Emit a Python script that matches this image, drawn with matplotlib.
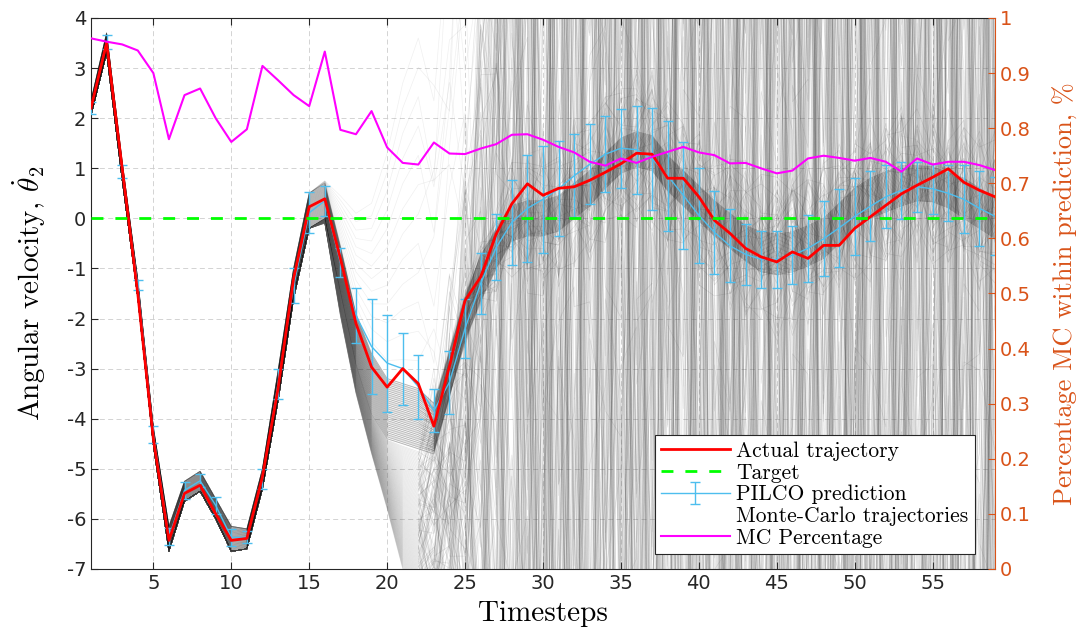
import numpy as np
import matplotlib
matplotlib.use('Agg')
import matplotlib.pyplot as plt
from matplotlib.lines import Line2D

plt.rcParams['mathtext.fontset'] = 'cm'
plt.rcParams['axes.unicode_minus'] = False
plt.rcParams['font.family'] = 'DejaVu Sans'

steps = np.arange(1, 60)

# actual trajectory (red)
actual = [2.2, 3.5, 1.0, -1.5, -4.4, -6.43, -5.49, -5.33, -5.9, -6.43,
          -6.39, -5.16, -3.4, -1.2, 0.23, 0.39, -0.8, -2.1, -2.97, -3.37,
          -3.0, -3.3, -4.15, -2.95, -1.64, -1.17, -0.31, 0.29, 0.69, 0.46,
          0.6, 0.63, 0.76, 0.92, 1.09, 1.30, 1.28, 0.80, 0.80, 0.43,
          -0.04, -0.3, -0.6, -0.77, -0.87, -0.67, -0.8, -0.54, -0.54, -0.2,
          0.03, 0.26, 0.49, 0.66, 0.82, 0.99, 0.72, 0.56, 0.43]

# PILCO prediction: mean and error bar half-width (cyan)
pilco_mean = [2.2, 3.53, 0.94, -1.34, -4.31, -6.36, -5.43, -5.24, -5.73, -6.37,
              -6.37, -5.21, -3.3, -1.35, 0.11, 0.35, -0.88, -1.94, -2.56, -2.89,
              -3.0, -3.36, -3.84, -3.27, -2.2, -1.3, -0.58, -0.08, 0.2, 0.38,
              0.59, 0.85, 1.08, 1.28, 1.4, 1.37, 1.19, 0.85, 0.46, 0.06,
              -0.28, -0.55, -0.72, -0.82, -0.82, -0.74, -0.6, -0.41, -0.19, 0.04,
              0.24, 0.43, 0.56, 0.63, 0.59, 0.5, 0.38, 0.2, 0.04]
pilco_err = [0.12, 0.14, 0.13, 0.1, 0.17, 0.17, 0.17, 0.13, 0.17, 0.17,
             0.12, 0.2, 0.3, 0.35, 0.41, 0.3, 0.29, 0.55, 0.94, 0.97,
             0.72, 0.64, 0.43, 0.63, 0.58, 0.6, 0.66, 0.85, 1.07, 1.07,
             0.95, 0.83, 0.8, 0.76, 0.79, 0.88, 1.02, 1.1, 1.07, 0.95,
             0.83, 0.73, 0.61, 0.57, 0.57, 0.58, 0.67, 0.75, 0.78, 0.77,
             0.7, 0.63, 0.57, 0.5, 0.5, 0.56, 0.68, 0.75, 0.78]

# share of Monte-Carlo runs inside the prediction (right axis)
mc_percent = [0.963, 0.957, 0.952, 0.941, 0.90, 0.78, 0.86, 0.872, 0.818, 0.775,
              0.798, 0.913, 0.887, 0.86, 0.84, 0.939, 0.797, 0.789, 0.831, 0.765,
              0.737, 0.734, 0.774, 0.754, 0.753, 0.763, 0.771, 0.788, 0.789, 0.779,
              0.766, 0.756, 0.739, 0.732, 0.745, 0.737, 0.748, 0.757, 0.766, 0.756,
              0.751, 0.736, 0.737, 0.727, 0.718, 0.723, 0.745, 0.75, 0.746, 0.741,
              0.746, 0.739, 0.721, 0.745, 0.734, 0.739, 0.739, 0.733, 0.724]

# Monte-Carlo cloud: centre and half-width of the dense band
mc_core = [2.2, 3.5, 0.95, -1.4, -4.35, -6.4, -5.45, -5.25, -5.8, -6.4,
           -6.4, -5.2, -3.35, -1.3, 0.15, 0.35, -1.0, -2.4, -3.3, -3.8,
           -3.9, -4.0, -4.2, -3.1, -2.0, -1.2, -0.6, -0.1, 0.0, 0.0,
           0.1, 0.35, 0.6, 0.95, 1.25, 1.38, 1.3, 0.9, 0.6, 0.3,
           0.0, -0.25, -0.5, -0.67, -0.72, -0.67, -0.55, -0.4, -0.1, 0.2,
           0.4, 0.53, 0.65, 0.7, 0.68, 0.56, 0.4, 0.2, 0.0]
mc_core_w = [0.15, 0.2, 0.18, 0.18, 0.18, 0.25, 0.2, 0.2, 0.2, 0.25,
             0.2, 0.2, 0.3, 0.3, 0.35, 0.35, 0.45, 0.5, 0.6, 0.6,
             0.6, 0.6, 0.5, 0.45, 0.45, 0.45, 0.4, 0.35, 0.35, 0.35,
             0.35, 0.35, 0.35, 0.35, 0.35, 0.35, 0.35, 0.35, 0.35, 0.35,
             0.35, 0.35, 0.35, 0.4, 0.4, 0.4, 0.4, 0.4, 0.4, 0.4,
             0.4, 0.4, 0.4, 0.35, 0.35, 0.35, 0.4, 0.4, 0.4]
# how far the runs fan out below / above the band before they scatter
mc_spread_dn = [0] * 15 + [0.1, 0.5, 0.6, 0.8, 1.4, 2.5, 3.0, 2.8, 3.5, 5.0, 7.0, 9.0] + [10.0] * 32
mc_spread_up = [0] * 15 + [0.05, 1.0, 2.0, 3.0, 4.5, 6.0, 7.0, 8.0, 9.0, 10.0, 12.0] + [12.0] * 33
mc_mix = [0] * 22 + [0.08, 0.12, 0.22, 0.35, 0.55, 0.75, 0.9] + [1.0] * 30
mc_wild = 24.0   # half-range of the scattered runs
mc_halo = 1.4    # half-range of the runs scattered close to the band


def scatter(k, t):
    # fixed hash in [0, 1) used to jumble the scattered runs
    return (np.sin(k * 12.9898 + t * 78.233) * 43758.5453) % 1


x = steps.astype(float)
core = np.array(mc_core)
cw = np.array(mc_core_w)
dn = np.array(mc_spread_dn)
up = np.array(mc_spread_up)
mix = np.array(mc_mix)

fig = plt.figure(figsize=(10.86, 6.35), dpi=100)
ax = fig.add_axes([0.0838, 0.104, 0.8324, 0.8677])

# runs that fan out from the band and then spread over the whole range
n_low, n_up, n_halo = 110, 12, 40
k = np.arange(n_low + n_up)[:, None]
s = np.concatenate([np.linspace(0.02, 1, n_low), np.linspace(0.08, 1, n_up)])[:, None]
sign = np.concatenate([-np.ones(n_low), np.ones(n_up)])[:, None]
fan = core + sign * (cw + s * np.where(sign < 0, dn, up))
wild = core + mc_wild * (2 * scatter(k, x) - 1)
runs = (1 - mix) * fan + mix * wild
ax.plot(x, runs[:n_low].T, color='#555555', lw=0.5, alpha=0.15, zorder=2)
ax.plot(x, runs[n_low:].T, color='#555555', lw=0.5, alpha=0.09, zorder=2)

# runs scattered near the band
kh = np.arange(n_halo)[:, None] + 500
sh = np.linspace(-1, 1, n_halo)[:, None]
halo = core + sh * cw + mix * mc_halo * (2 * scatter(kh, x) - 1)
ax.plot(x, halo.T, color='#444444', lw=0.5, alpha=0.14, zorder=2)

# dense band of runs
offs = np.linspace(-1, 1, 31)[:, None]
band = core + offs * cw
ax.plot(x, band.T, color='k', lw=0.7, alpha=0.22, zorder=2)

eb = ax.errorbar(x, pilco_mean, yerr=pilco_err, color='#4DBEEE', lw=1.0,
                 elinewidth=1.0, capsize=3.8, capthick=1.0, zorder=4)
ln_act, = ax.plot(x, actual, color='#FF0000', lw=2.0, zorder=5)
ln_tgt, = ax.plot(x, np.zeros_like(x), color='#00FF00', lw=2.0,
                  dashes=(4.3, 4.3), zorder=5)

ax.set_xlim(1, 59)
ax.set_ylim(-7, 4)
ax.set_xticks(np.arange(5, 59, 5))
ax.set_yticks(np.arange(-7, 5, 1))
ax.grid(True, color='#cccccc', lw=0.6, dashes=(6, 4))
ax.set_axisbelow(True)
ax.tick_params(direction='in', top=True, right=False, labelsize=14,
               colors='#262626', length=5, width=0.8)
for sp in ['left', 'top', 'bottom']:
    ax.spines[sp].set_color('#262626')
    ax.spines[sp].set_linewidth(0.8)
ax.spines['right'].set_visible(False)
ax.set_xlabel('Timesteps', family='cmr10', fontsize=21, labelpad=6)
ax.set_ylabel(r'Angular velocity, $\dot{\theta}_2$', family='cmr10',
              fontsize=21, labelpad=13)

orange = '#D95319'
ax2 = ax.twinx()
ln_mc, = ax2.plot(x, mc_percent, color='#FF00FF', lw=1.5, zorder=6)
ax2.set_ylim(0, 1)
ax2.set_yticks(np.linspace(0, 1, 11))
ax2.set_yticklabels(['0', '0.1', '0.2', '0.3', '0.4', '0.5', '0.6', '0.7',
                     '0.8', '0.9', '1'])
ax2.tick_params(direction='in', labelsize=14, colors=orange, length=5, width=0.8)
for sp in ['left', 'top', 'bottom']:
    ax2.spines[sp].set_visible(False)
ax2.spines['right'].set_color(orange)
ax2.set_ylabel('Percentage MC within prediction, %', family='cmr10',
               fontsize=19, color=orange, labelpad=16)

mc_handle = Line2D([], [], color='#888888', lw=0.5, alpha=0.0)
leg = ax2.legend([ln_act, ln_tgt, eb, mc_handle, ln_mc],
                 ['Actual trajectory', 'Target', 'PILCO prediction',
                  'Monte-Carlo trajectories', 'MC Percentage'],
                 loc='lower right', bbox_to_anchor=(0.978, 0.027),
                 borderaxespad=0, prop={'family': 'cmr10', 'size': 15.5},
                 handlelength=3.2, handletextpad=0.3, labelspacing=0.1,
                 borderpad=0.3, fancybox=False, framealpha=1.0,
                 edgecolor='#262626')
leg.get_frame().set_linewidth(0.8)
leg.set_zorder(10)

fig.savefig('out.png', dpi=100)
